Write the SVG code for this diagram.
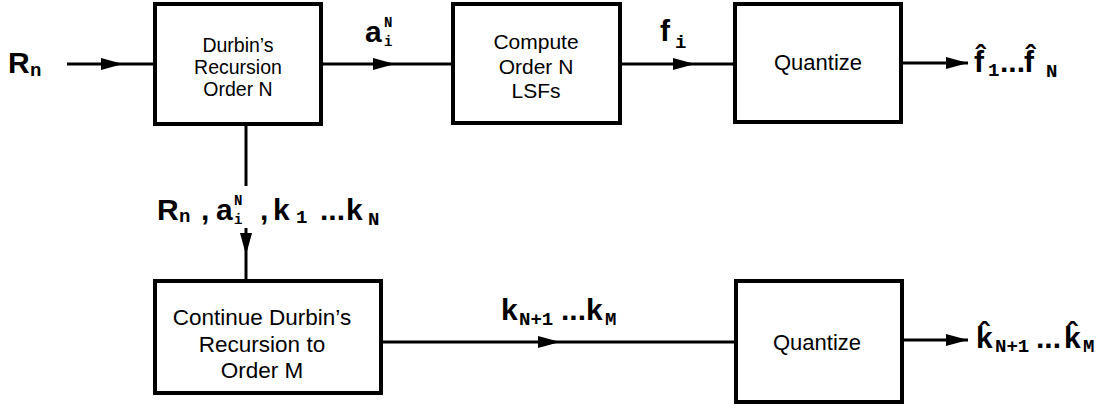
<svg xmlns="http://www.w3.org/2000/svg" width="1108" height="408" viewBox="0 0 1108 408">
<style>
.box{fill:#fff;stroke:#000;stroke-width:4}
.t{font-family:"Liberation Sans",Arial,sans-serif;font-size:21px;fill:#000;text-anchor:middle}
.td{font-size:19.5px}
.tl{font-size:22.5px}
.tq{font-size:22px}
.m{font-family:"Liberation Sans",Arial,sans-serif;font-size:30px;font-weight:bold;fill:#000}
.s{font-family:"Liberation Mono","Courier New",monospace;font-size:19px;font-weight:bold}
.ss{font-family:"Liberation Mono","Courier New",monospace;font-size:14px;font-weight:bold}
.c{fill:none;stroke:#000;stroke-width:3}
</style>
<defs>
<marker id="arr" markerUnits="userSpaceOnUse" markerWidth="24" markerHeight="14" refX="22" refY="6" orient="auto">
<path d="M0,0 L22,6 L0,12 z" fill="#000"/>
</marker>
</defs>
<g id="connectors">
<path class="c" d="M67,64 H123" marker-end="url(#arr)"/><path class="c" d="M123,64 H155"/>
<path class="c" d="M321,64 H395" marker-end="url(#arr)"/><path class="c" d="M395,64 H453"/>
<path class="c" d="M620,64 H695" marker-end="url(#arr)"/><path class="c" d="M695,64 H735"/>
<path class="c" d="M901,63 H968" marker-end="url(#arr)"/>
<path class="c" d="M246,124 V186"/>
<path class="c" d="M246,228 V255" marker-end="url(#arr)"/><path class="c" d="M246,255 V281"/>
<path class="c" d="M381,342 H560" marker-end="url(#arr)"/><path class="c" d="M560,342 H736"/>
<path class="c" d="M902,340 H968" marker-end="url(#arr)"/>
</g>
<g id="durbin">
<rect class="box" x="155" y="4" width="166" height="120"/>
<text class="t td" x="238" y="52">Durbin’s</text>
<text class="t td" x="238" y="74">Recursion</text>
<text class="t td" x="238" y="96">Order N</text>
</g>
<g id="compute">
<rect class="box" x="453" y="4" width="167" height="119"/>
<text class="t" x="536" y="49">Compute</text>
<text class="t" x="536" y="74">Order N</text>
<text class="t" x="536" y="98">LSFs</text>
</g>
<g id="quantize1">
<rect class="box" x="735" y="4" width="166" height="118"/>
<text class="t tq" x="818" y="70">Quantize</text>
</g>
<g id="continue">
<rect class="box" x="155" y="281" width="226" height="112"/>
<text class="t tl" x="262" y="325">Continue Durbin’s</text>
<text class="t tl" x="262" y="352">Recursion to</text>
<text class="t tl" x="262" y="378">Order M</text>
</g>
<g id="quantize2">
<rect class="box" x="736" y="281" width="166" height="121"/>
<text class="t tq" x="817" y="350">Quantize</text>
</g>
<g id="labels">
<text class="m"><tspan x="8" y="73">R</tspan><tspan class="s" x="30" y="76">n</tspan></text>
<text class="m"><tspan x="365" y="42">a</tspan><tspan class="ss" x="384" y="27">N</tspan><tspan class="ss" x="384" y="46">i</tspan></text>
<text class="m"><tspan x="660" y="41">f</tspan><tspan class="s" x="675" y="48">i</tspan></text>
<text class="m"><tspan x="974" y="72">f&#x302;</tspan><tspan class="s" x="988" y="76">1</tspan><tspan x="1000" y="72">...</tspan><tspan x="1024" y="72">f&#x302;</tspan><tspan class="s" x="1046" y="77">N</tspan></text>
<text class="m"><tspan x="157" y="220">R</tspan><tspan class="s" x="179" y="222">n</tspan><tspan x="201" y="220">,</tspan><tspan x="216" y="220">a</tspan><tspan class="ss" x="234" y="205">N</tspan><tspan class="ss" x="234" y="224">i</tspan><tspan x="260" y="220">,</tspan><tspan x="273" y="220">k</tspan><tspan class="s" x="296" y="223">1</tspan><tspan x="320" y="220">...</tspan><tspan x="346" y="220">k</tspan><tspan class="s" x="368" y="225">N</tspan></text>
<text class="m"><tspan x="501" y="320">k</tspan><tspan class="s" x="519" y="325">N+1</tspan><tspan x="561" y="320">...</tspan><tspan x="586" y="320">k</tspan><tspan class="s" x="605" y="325">M</tspan></text>
<text class="m"><tspan x="976" y="348">k&#x302;</tspan><tspan class="s" x="995" y="352">N+1</tspan><tspan x="1036" y="348">...</tspan><tspan x="1064" y="348">k&#x302;</tspan><tspan class="s" x="1083" y="352">M</tspan></text>
</g>
</svg>
